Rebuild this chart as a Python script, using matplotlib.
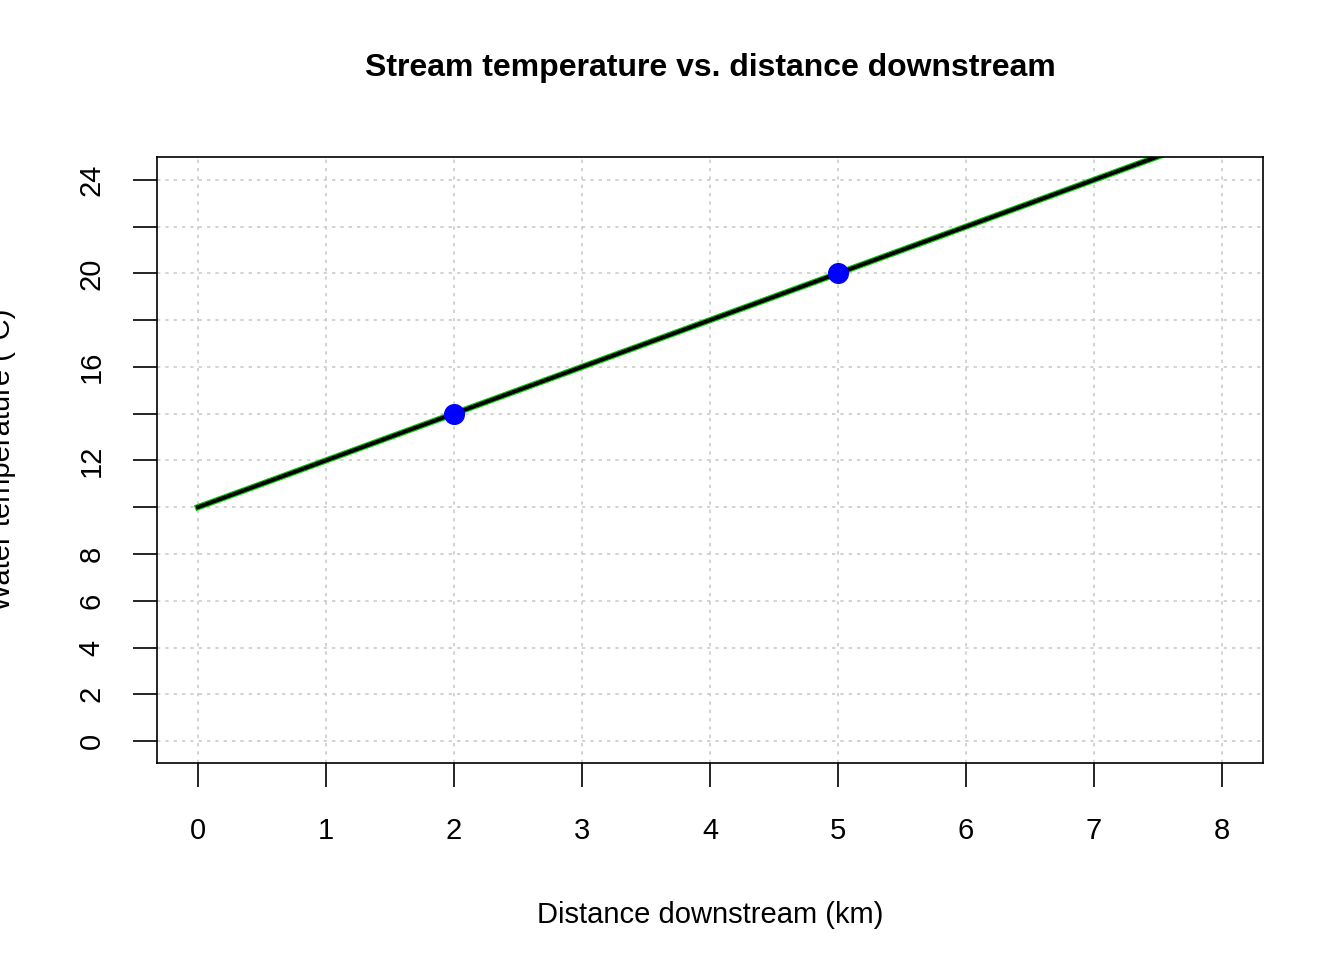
import numpy as np
import matplotlib.pyplot as plt

# data
point_x = [2, 5]
point_y = [14, 20]
line_x = [0, 7.6]
intercept = 10
slope = 2
x_ticks = [0, 1, 2, 3, 4, 5, 6, 7, 8]
y_ticks = list(range(0, 25, 2))
y_labels = ['0', '2', '4', '6', '8', '', '12', '', '16', '', '20', '', '24']

plt.rcParams['font.family'] = ['Liberation Sans', 'DejaVu Sans']
fig = plt.figure(figsize=(13.44, 9.6), dpi=100)
ax = fig.add_axes([0.1168, 0.2052, 0.8229, 0.6313])

lx = np.array(line_x)
ly = intercept + slope * lx
ax.plot(lx, ly, color='#00cc00', lw=4.5, zorder=2)
ax.plot(lx, ly, color='black', lw=2.8, zorder=3)
ax.scatter(point_x, point_y, s=200, color='blue', zorder=4)

ax.set_xlim(-0.32, 8.32)
ax.set_ylim(-0.94, 24.98)
ax.set_xticks(x_ticks)
ax.set_yticks(y_ticks)
ax.set_yticklabels(y_labels, rotation=90, va='center')
ax.grid(True, color='#cccccc', linestyle=(0, (2, 3)), lw=1.2)
ax.set_axisbelow(True)
ax.tick_params(direction='out', length=17, width=1.2, labelsize=21)
ax.tick_params(axis='x', pad=22)
ax.tick_params(axis='y', pad=20)
for s in ax.spines.values():
    s.set_linewidth(1.2)

ax.set_xlabel('Distance downstream (km)', fontsize=21, labelpad=40)
ax.set_ylabel('Water temperature (°C)', fontsize=21, labelpad=44)
ax.set_title('Stream temperature vs. distance downstream', fontsize=23,
             fontweight='bold', pad=58)

fig.savefig('out.png', dpi=100)
